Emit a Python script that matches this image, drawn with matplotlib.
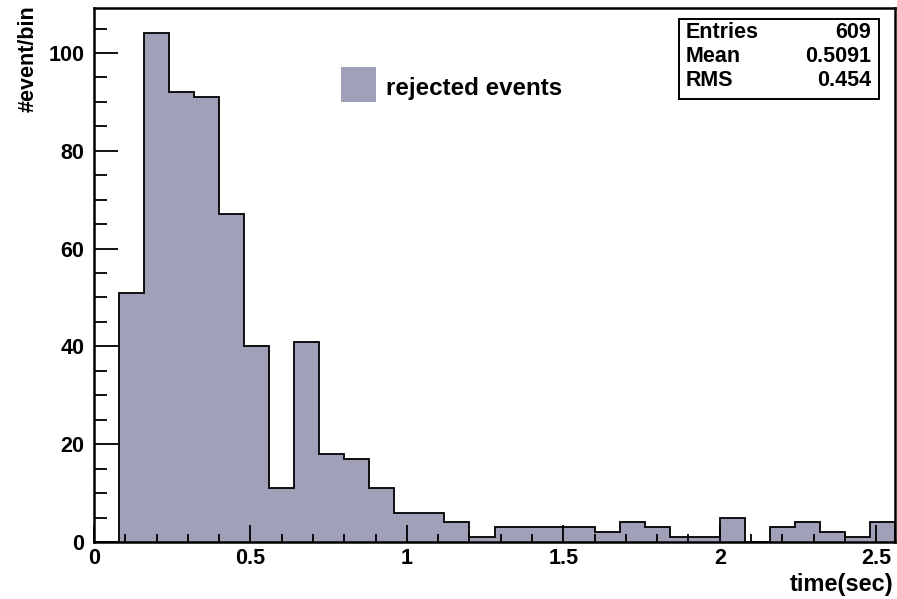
import numpy as np
import matplotlib
matplotlib.use("Agg")
import matplotlib.pyplot as plt
from matplotlib.patches import Rectangle
from matplotlib.ticker import MultipleLocator, FuncFormatter

# histogram: 32 bins of 0.08 s from 0 to 2.56 s
x_min, x_max, n_bins = 0.0, 2.56, 32
counts = [0, 51, 104, 92, 91, 67, 40, 11, 41, 18, 17, 11, 6, 6, 4, 1,
          3, 3, 3, 3, 2, 4, 3, 1, 1, 5, 0, 3, 4, 2, 1, 4]
stats_names = ["Entries", "Mean", "RMS"]
stats_values = ["609", "0.5091", "0.454"]
legend_label = "rejected events"

W, H = 897, 599
plt.rcParams['font.family'] = ['Liberation Sans', 'DejaVu Sans']
plt.rcParams['font.weight'] = 'bold'

fig = plt.figure(figsize=(W / 100, H / 100), dpi=100)
ax = fig.add_axes([94 / W, 1 - 542 / H, (895 - 94) / W, (542 - 8) / H])

fill_col = '#a0a0b8'
edges = np.linspace(x_min, x_max, n_bins + 1)
vals = np.array(counts, dtype=float)
ax.stairs(vals, edges, fill=True, color=fill_col)
ax.stairs(vals, edges, fill=False, color='black', linewidth=1.3)

ax.set_xlim(x_min, x_max)
ax.set_ylim(0, 109.2)

for s in ax.spines.values():
    s.set_linewidth(1.8)

ax.xaxis.set_major_locator(MultipleLocator(0.5))
ax.xaxis.set_minor_locator(MultipleLocator(0.1))
ax.yaxis.set_major_locator(MultipleLocator(20))
ax.yaxis.set_minor_locator(MultipleLocator(5))
ax.xaxis.set_major_formatter(FuncFormatter(lambda v, p: '%g' % v))
ax.tick_params(axis='both', which='both', direction='in', width=1.3,
               labelsize=15.5, colors='black')
ax.tick_params(axis='y', which='major', length=17, pad=7)
ax.tick_params(axis='y', which='minor', length=9)
ax.tick_params(axis='x', which='major', length=12, pad=4.5)
ax.tick_params(axis='x', which='minor', length=6)

# axis titles, ROOT style (right / top aligned)
fig.text(893 / W, 1 - 596 / H, "time(sec)", ha='right', va='bottom',
         fontsize=17, fontweight='bold')
fig.text(28 / W, 1 - 5 / H, "#event/bin", rotation=90, ha='center', va='top',
         fontsize=15.5, fontweight='bold')

# legend entry (square + label)
leg_box = Rectangle((341 / W, 1 - 102 / H), 35 / W, 35 / H, transform=fig.transFigure,
                    facecolor=fill_col, edgecolor='none')
fig.patches.append(leg_box)
fig.text(386 / W, 1 - 86 / H, legend_label, ha='left', va='center_baseline',
         fontsize=17.4, fontweight='bold')

# stats box
box = Rectangle((679 / W, 1 - 99 / H), 200 / W, 80 / H, transform=fig.transFigure,
                facecolor='white', edgecolor='black', linewidth=1.4, zorder=5)
fig.patches.append(box)
row_y = [32.5, 56.5, 81]
for name, val, yy in zip(stats_names, stats_values, row_y):
    fig.text(686 / W, 1 - yy / H, name, ha='left', va='center',
             fontsize=15.5, fontweight='bold', zorder=6)
    fig.text(871 / W, 1 - yy / H, val, ha='right', va='center',
             fontsize=15.5, fontweight='bold', zorder=6)

fig.savefig("out.png", dpi=100)
